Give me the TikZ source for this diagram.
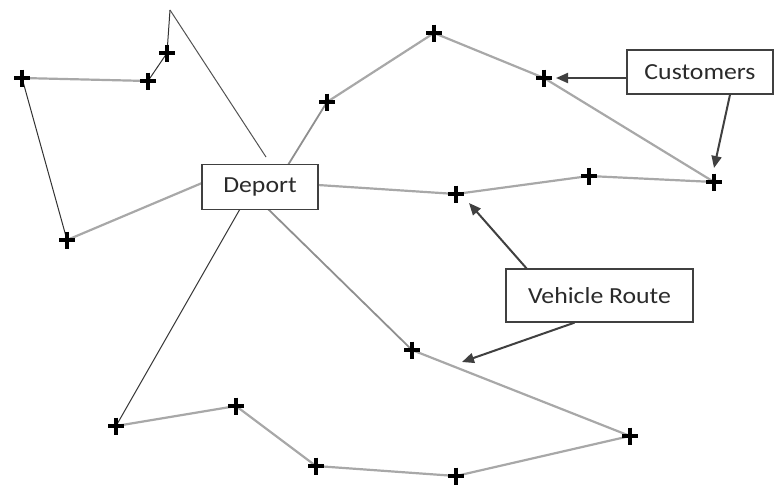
\documentclass[tikz,border=0pt]{standalone}
\usepackage{fontspec}
\setmainfont{Carlito}
\usetikzlibrary{arrows.meta,backgrounds,calc}
\definecolor{routegray}{HTML}{A8A8A8}
\definecolor{darkline}{HTML}{333333}
\definecolor{boxline}{HTML}{404040}
\definecolor{txt}{HTML}{2A2A2A}
\tikzset{
  custpt/.style={rectangle, minimum width=16pt, minimum height=17pt, inner sep=0pt, outer sep=0pt},
  crossbar/.style={draw=black, line width=4pt},
  labbox/.style={draw=boxline, line width=1.3pt, fill=white, inner sep=0pt, text=txt,
    font=\fontsize{23}{27}\selectfont},
  route/.style={draw=routegray, line width=2.2pt, line join=round},
  darkroute/.style={draw=darkline, line width=1pt, line join=round},
  callout/.style={draw=boxline, line width=2pt, -{Triangle[length=12pt,width=10pt]}}
}
\begin{document}
\begin{tikzpicture}[x=1pt,y=-1pt]
\useasboundingbox (0,0) rectangle (775,485);
% customers
\node[custpt] (a1) at (22,78) {};
\node[custpt] (a2) at (148,81) {};
\node[custpt] (a3) at (167,53) {};
\node[custpt] (a4) at (67,240) {};
\node[custpt] (b1) at (327,102) {};
\node[custpt] (b2) at (434,33) {};
\node[custpt] (b3) at (544,78) {};
\node[custpt] (b4) at (714,182) {};
\node[custpt] (b5) at (589,176) {};
\node[custpt] (b6) at (456,194) {};
\node[custpt] (c1) at (412,350) {};
\node[custpt] (c2) at (630,436) {};
\node[custpt] (c3) at (456,476) {};
\node[custpt] (c4) at (316,466) {};
\node[custpt] (c5) at (236,406) {};
\node[custpt] (c6) at (116,426) {};
\coordinate (top) at (170,10);
% routes
\draw[route] (a4.center) -- (202,183);
\draw[darkroute] (a4.center) -- (a1.center);
\draw[route] (a1.center) -- (a2.center);
\draw[darkroute] (a2.center) -- (a3.center) -- (top);
\draw[darkroute, draw=darkline!85] (top) -- (266,157);
\draw[route, draw=routegray!85!black, line width=1.8pt] (288,165) -- (b1.center);
\draw[route] (b1.center) -- (b2.center) -- (b3.center) -- (b4.center) -- (b5.center) -- (b6.center) -- (318,185);
\draw[route, draw=routegray!85!black, line width=1.8pt] (268,209) -- (c1.center);
\draw[route] (c1.center) -- (c2.center) -- (c3.center) -- (c4.center) -- (c5.center) -- (c6.center);
\draw[darkroute] (c6.center) -- (240,209);
% crosses
\foreach \n in {a1,a2,a3,a4,b1,b2,b3,b4,b5,b6,c1,c2,c3,c4,c5,c6}{
  \draw[crossbar] (\n.north) -- (\n.south) (\n.west) -- (\n.east);
}
% boxes
\node[labbox, minimum width=116pt, minimum height=45pt] (dep) at (260,187) {\scalebox{1.12}[1]{Deport}};
\node[labbox, minimum width=146pt, minimum height=44pt] (cust) at (700,72) {\scalebox{1.12}[1]{Customers}};
\node[labbox, minimum width=187pt, minimum height=53pt] (vr) at (599.5,295.5) {\scalebox{1.12}[1]{Vehicle Route}};
\coordinate (t3) at (469,203);
\coordinate (t4) at (462,362);
% callouts
\draw[callout] ([yshift=-6pt]cust.west) -- ([xshift=12pt]b3.center);
\draw[callout] ([xshift=30pt]cust.south) -- ([yshift=14pt]b4.center);
\draw[callout] ([xshift=-73pt]vr.north) -- (t3);
\draw[callout] ([xshift=-25pt]vr.south) -- (t4);
\end{tikzpicture}
\end{document}
